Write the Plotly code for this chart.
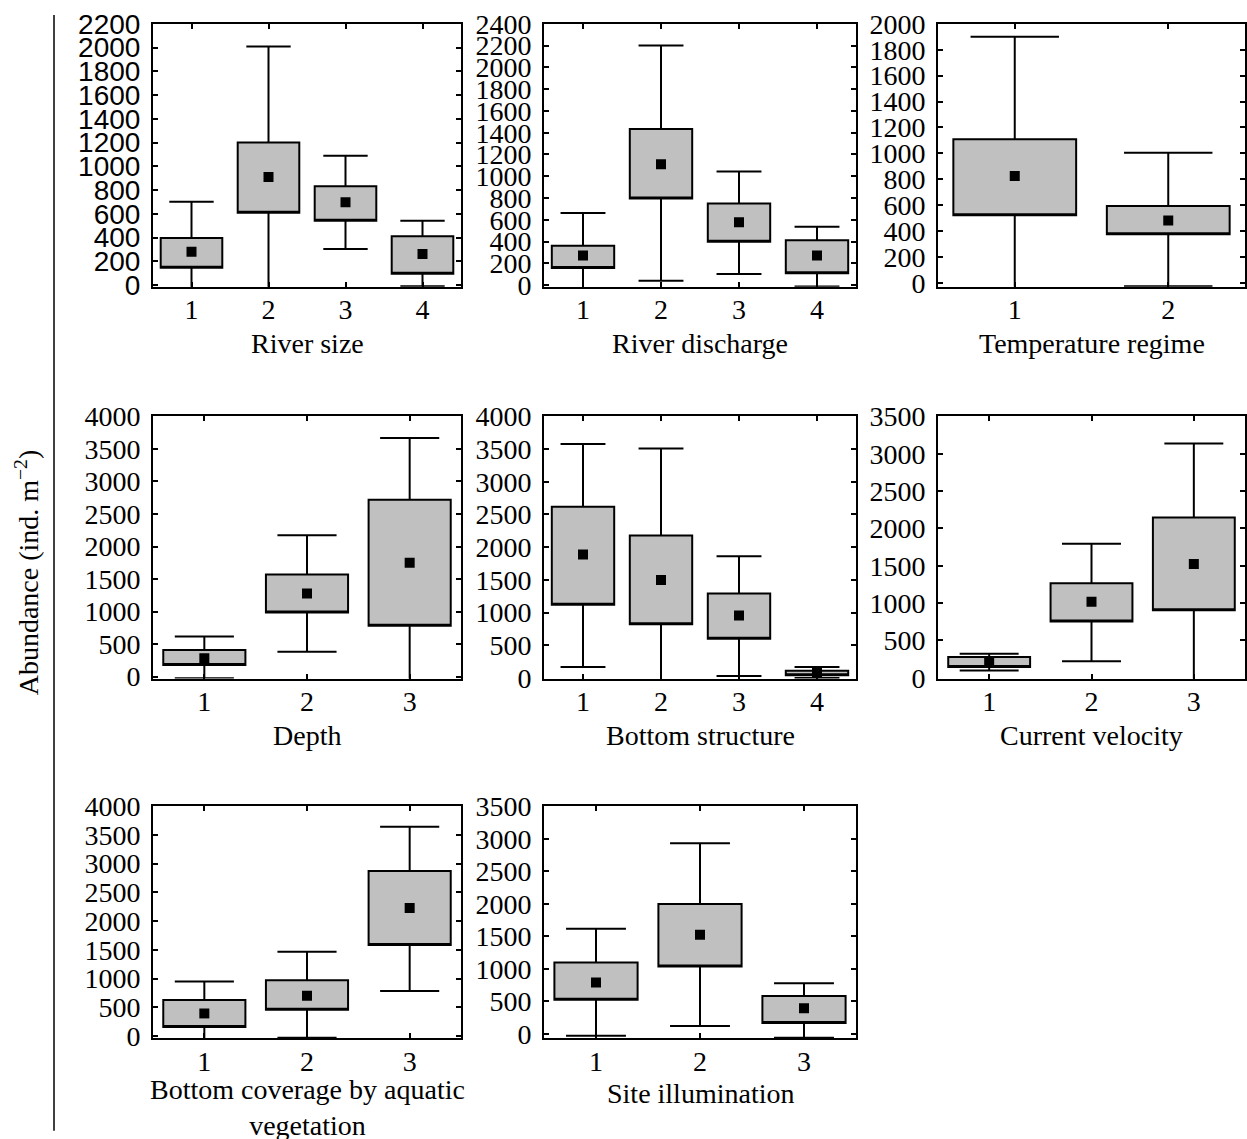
import plotly.graph_objects as go
from plotly.subplots import make_subplots

# ---------------- data ----------------
river_size_cats = [1, 2, 3, 4]
river_size_min = [-150, -100, 303, -11]
river_size_q1 = [146, 609, 541, 95]
river_size_mean = [280, 909, 698, 261]
river_size_q3 = [396, 1200, 833, 410]
river_size_max = [701, 2008, 1088, 541]

river_discharge_cats = [1, 2, 3, 4]
river_discharge_min = [-100, 40, 104, -12]
river_discharge_q1 = [159, 796, 400, 110]
river_discharge_mean = [272, 1111, 577, 272]
river_discharge_q3 = [363, 1434, 751, 412]
river_discharge_max = [662, 2200, 1043, 537]

temperature_cats = [1, 2]
temperature_min = [-150, -25]
temperature_q1 = [523, 375]
temperature_mean = [826, 482]
temperature_q3 = [1109, 594]
temperature_max = [1900, 1005]

depth_cats = [1, 2, 3]
depth_min = [-25, 383, -200]
depth_q1 = [177, 984, 782]
depth_mean = [282, 1276, 1750]
depth_q3 = [409, 1569, 2719]
depth_max = [615, 2174, 3667]

bottom_structure_cats = [1, 2, 3, 4]
bottom_structure_min = [167, -200, 30, 0]
bottom_structure_q1 = [1120, 820, 599, 40]
bottom_structure_mean = [1889, 1498, 954, 86]
bottom_structure_q3 = [2618, 2180, 1293, 111]
bottom_structure_max = [3580, 3510, 1862, 167]

current_velocity_cats = [1, 2, 3]
current_velocity_min = [97, 221, -200]
current_velocity_q1 = [144, 753, 904]
current_velocity_mean = [204, 1019, 1524]
current_velocity_q3 = [277, 1267, 2148]
current_velocity_max = [321, 1794, 3136]

vegetation_cats = [1, 2, 3]
vegetation_min = [-200, -29, 783]
vegetation_q1 = [158, 460, 1583]
vegetation_mean = [394, 702, 2227]
vegetation_q3 = [629, 973, 2872]
vegetation_max = [951, 1468, 3643]

illumination_cats = [1, 2, 3]
illumination_min = [-28, 121, -61]
illumination_q1 = [525, 1035, 167]
illumination_mean = [790, 1525, 394]
illumination_q3 = [1097, 1995, 581]
illumination_max = [1614, 2929, 778]

titles = ["River size", "River discharge", "Temperature regime",
          "Depth", "Bottom structure", "Current velocity",
          "Bottom coverage by aquatic<br>vegetation", "Site illumination"]
y_ticks = [list(range(0, 2201, 200)), list(range(0, 2401, 200)), list(range(0, 2001, 200)),
           list(range(0, 4001, 500)), list(range(0, 4001, 500)), list(range(0, 3501, 500)),
           list(range(0, 4001, 500)), list(range(0, 3501, 500))]
y_title = "Abundance (ind. m<sup>−2</sup>)"

panels = [
    (river_size_cats, river_size_min, river_size_q1, river_size_mean, river_size_q3, river_size_max),
    (river_discharge_cats, river_discharge_min, river_discharge_q1, river_discharge_mean, river_discharge_q3, river_discharge_max),
    (temperature_cats, temperature_min, temperature_q1, temperature_mean, temperature_q3, temperature_max),
    (depth_cats, depth_min, depth_q1, depth_mean, depth_q3, depth_max),
    (bottom_structure_cats, bottom_structure_min, bottom_structure_q1, bottom_structure_mean, bottom_structure_q3, bottom_structure_max),
    (current_velocity_cats, current_velocity_min, current_velocity_q1, current_velocity_mean, current_velocity_q3, current_velocity_max),
    (vegetation_cats, vegetation_min, vegetation_q1, vegetation_mean, vegetation_q3, vegetation_max),
    (illumination_cats, illumination_min, illumination_q1, illumination_mean, illumination_q3, illumination_max),
]

# ---------------- layout geometry (pixels from the top-left of the figure) ----------------
W, H = 1247, 1170
SERIF = "Liberation Serif, Times New Roman, serif"
SANS = "Liberation Sans, Arial, sans-serif"
cols_px = [(153, 461), (544, 856), (938, 1245)]
rows_px = [(9, 279), (412, 681), (812, 1050)]
y_pad = [15, 15, 30, 30, 10, 10, 35, 65]
title_y_px = [337, 337, 337, 739, 739, 739, 1121, 1107]

fig = make_subplots(rows=3, cols=3,
                    specs=[[{}, {}, {}], [{}, {}, {}], [{}, {}, None]])

for i, (cats, mn, q1, mean, q3, mx) in enumerate(panels):
    r, c = divmod(i, 3)
    fig.add_trace(go.Box(x=cats, q1=q1, median=q1, q3=q3, lowerfence=mn, upperfence=mx,
                         width=0.8, whiskerwidth=0.72, fillcolor="#c0c0c0",
                         line=dict(color="black", width=2), boxpoints=False,
                         hoverinfo="skip", showlegend=False),
                  row=r + 1, col=c + 1)
    fig.add_trace(go.Scatter(x=cats, y=mean, mode="markers",
                             marker=dict(symbol="square", size=10, color="black"),
                             hoverinfo="skip", showlegend=False),
                  row=r + 1, col=c + 1)

    ax = "" if i == 0 else str(i + 1)
    x0, x1 = cols_px[c]
    y0, y1 = rows_px[r]
    common = dict(showline=True, linecolor="black", linewidth=2, mirror="ticks",
                  ticks="inside", ticklen=5, tickwidth=2, tickcolor="black",
                  showgrid=False, zeroline=False)
    fig.layout["xaxis" + ax].update(
        domain=[x0 / W, x1 / W], range=[0.5, len(cats) + 0.5],
        tickvals=cats, ticktext=[str(v) for v in cats],
        tickfont=dict(family=SERIF, size=28, color="black"),
        ticklabelstandoff=-3, **common)
    fig.layout["yaxis" + ax].update(
        domain=[1 - y1 / H, 1 - y0 / H], range=[-y_pad[i], y_ticks[i][-1]],
        tickvals=y_ticks[i], ticktext=[str(v) for v in y_ticks[i]],
        tickfont=dict(family=SANS if i == 0 else SERIF, size=28, color="black"),
        ticklabelstandoff=5, **common)
    fig.add_annotation(text=titles[i], xref="paper", yref="paper",
                       x=(x0 + x1) / 2 / W, y=1 - title_y_px[i] / H,
                       xanchor="center", yanchor="middle", showarrow=False,
                       font=dict(family=SERIF, size=28, color="black"))

fig.add_annotation(text=y_title, xref="paper", yref="paper", x=27 / W, y=1 - 572 / H,
                   xanchor="center", yanchor="middle", textangle=-90, showarrow=False,
                   font=dict(family=SERIF, size=28, color="black"))
fig.add_shape(type="line", xref="paper", yref="paper", x0=54 / W, x1=54 / W,
              y0=1 - 1145 / H, y1=1, line=dict(color="black", width=1.5))

fig.update_layout(width=W, height=H, autosize=False,
                  margin=dict(l=0, r=0, t=0, b=0),
                  paper_bgcolor="white", plot_bgcolor="white",
                  boxmode="overlay")

pin_script = (
    "document.documentElement.style.margin='0';"
    "document.body.style.margin='0';document.body.style.overflow='hidden';"
)
fig.write_html("out.html", config={"displayModeBar": False}, post_script=pin_script)
